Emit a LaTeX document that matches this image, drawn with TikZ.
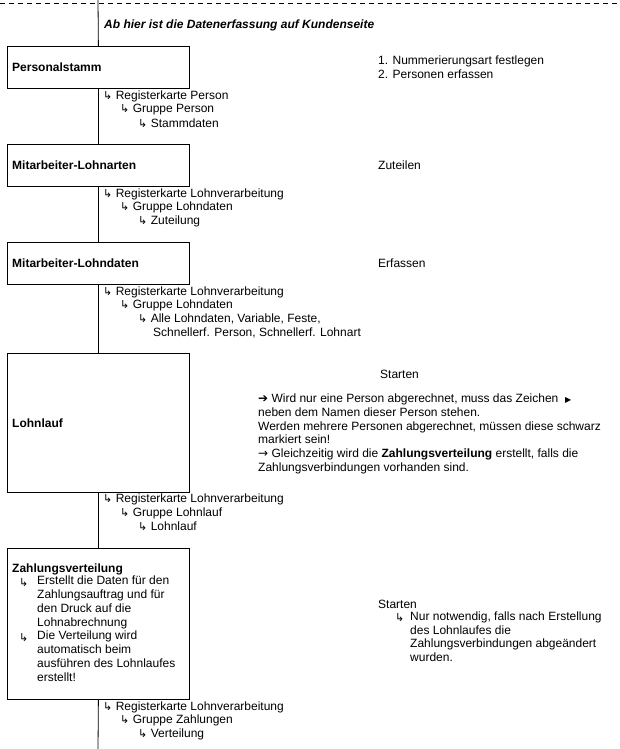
\documentclass[tikz,border=0pt]{standalone}
\usepackage{fontspec}
\setmainfont{Liberation Sans}
\newfontfamily\symfont{DejaVu Sans}
\newcommand\hk{{\symfont\fontsize{11}{11}\selectfont ↳}}
\begin{document}
\begin{tikzpicture}[x=1pt,y=1pt,
  box/.style={draw, line width=0.8pt, minimum width=182pt, anchor=north west, inner sep=0pt},
  txt/.style={anchor=west, inner sep=0pt, align=left, font=\fontsize{12}{13.7}\selectfont},
  btxt/.style={txt, font=\fontsize{12}{13.7}\selectfont\bfseries},
  conn/.style={line width=0.8pt}]
\useasboundingbox (0,0) rectangle (619,-749);
\coordinate (dl) at (0,-3);
\coordinate (dr) at (619,-3);
\draw[line width=0.6pt, dash pattern=on 5pt off 4pt] (dl) -- (dr);
\coordinate (top) at (98,0);
\coordinate (bot) at (98,-749);

\node[box, minimum height=42pt] (b1) at (7,-46) {};
\node[box, minimum height=42pt] (b2) at (7,-144) {};
\node[box, minimum height=42pt] (b3) at (7,-242) {};
\node[box, minimum height=139pt] (b4) at (7,-353) {};
\node[box, minimum height=151pt] (b5) at (7,-548) {};
\draw[conn] (top) -- (b1.north);
\draw[conn] (b1.south) -- (b2.north);
\draw[conn] (b2.south) -- (b3.north);
\draw[conn] (b3.south) -- (b4.north);
\draw[conn] (b4.south) -- (b5.north);
\draw[conn] (b5.south) -- (bot);

\node[btxt, font=\fontsize{12}{13.7}\selectfont\bfseries\itshape] (hdr) at (104,-25) {Ab hier ist die Datenerfassung auf Kundenseite};

% Box 1
\node[btxt] (t1) at (12,-67) {Personalstamm};
\node[txt] (r1) at (378,-67) {1. Nummerierungsart festlegen\\2. Personen erfassen};
\node[txt] (s11) at (103,-96) {\hk\ Registerkarte Person};
\node[txt] (s12) at (120,-109.5) {\hk\ Gruppe Person};
\node[txt] (s13) at (138,-123) {\hk\ Stammdaten};

% Box 2
\node[btxt] (t2) at (12,-165) {Mitarbeiter-Lohnarten};
\node[txt] (r2) at (378,-165) {Zuteilen};
\node[txt] (s21) at (103,-194) {\hk\ Registerkarte Lohnverarbeitung};
\node[txt] (s22) at (120,-207.5) {\hk\ Gruppe Lohndaten};
\node[txt] (s23) at (138,-221) {\hk\ Zuteilung};

% Box 3
\node[btxt] (t3) at (12,-263) {Mitarbeiter-Lohndaten};
\node[txt] (r3) at (378,-263) {Erfassen};
\node[txt] (s31) at (103,-292) {\hk\ Registerkarte Lohnverarbeitung};
\node[txt] (s32) at (120,-305.5) {\hk\ Gruppe Lohndaten};
\node[txt] (s33) at (138,-319) {\hk\ Alle Lohndaten, Variable, Feste,};
\node[txt] (s34) at (153,-332.5) {Schnellerf. Person, Schnellerf. Lohnart};

% Box 4
\node[btxt] (t4) at (12,-423) {Lohnlauf};
\node[txt] (r4) at (380,-374) {Starten};
\node[txt, anchor=north west] (r4b) at (258,-394) {{\symfont\fontsize{12}{10}\selectfont ➔} Wird nur eine Person abgerechnet, muss das Zeichen\ \ {\symfont\fontsize{8}{8}\selectfont ▶}\\
neben dem Namen dieser Person stehen.\\
Werden mehrere Personen abgerechnet, müssen diese schwarz\\
markiert sein!\\
{\symfont\fontsize{12}{10}\selectfont →} Gleichzeitig wird die \textbf{Zahlungsverteilung} erstellt, falls die\\
Zahlungsverbindungen vorhanden sind.};
\node[txt] (s41) at (103,-499.5) {\hk\ Registerkarte Lohnverarbeitung};
\node[txt] (s42) at (120,-513) {\hk\ Gruppe Lohnlauf};
\node[txt] (s43) at (138,-526.5) {\hk\ Lohnlauf};

% Box 5
\node[btxt] (t5) at (12,-569) {Zahlungsverteilung};
\node[txt] (b5a) at (19,-582.5) {\hk};
\node[txt, anchor=north west] (b5at) at (37,-576) {Erstellt die Daten für den\\Zahlungsauftrag und für\\den Druck auf die\\Lohnabrechnung};
\node[txt] (b5b) at (19,-637.5) {\hk};
\node[txt, anchor=north west] (b5bt) at (37,-631) {Die Verteilung wird\\automatisch beim\\ausführen des Lohnlaufes\\erstellt!};
\node[txt] (r5) at (378,-604) {Starten};
\node[txt] (r5a) at (395,-618) {\hk};
\node[txt, anchor=north west] (r5at) at (410,-611.5) {Nur notwendig, falls nach Erstellung\\des Lohnlaufes die\\Zahlungsverbindungen abgeändert\\wurden.};
\node[txt] (s51) at (103,-707) {\hk\ Registerkarte Lohnverarbeitung};
\node[txt] (s52) at (120,-720.5) {\hk\ Gruppe Zahlungen};
\node[txt] (s53) at (138,-734) {\hk\ Verteilung};
\end{tikzpicture}
\end{document}
